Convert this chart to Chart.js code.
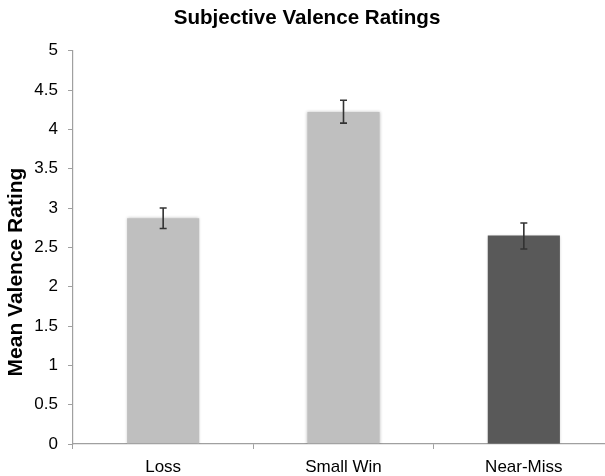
<!DOCTYPE html>
<html>
<head>
<meta charset="utf-8">
<script src="https://cdn.jsdelivr.net/npm/chart.js@4"></script>
<style>
    html, body { margin: 0; padding: 0; background: #fff; overflow: hidden; }
    #wrap { width: 614px; height: 476px; position: relative; }
</style>
</head>
<body>
<div id="wrap"><canvas id="valenceChart"></canvas></div>
<script>
// Data
let categories = ["Loss", "Small Win", "Near-Miss"];
let meanRatings = [2.87, 4.22, 2.65];
let errUpper = [3.00, 4.37, 2.81];
let errLower = [2.74, 4.08, 2.48];
let barColors = ["#bfbfbf", "#bfbfbf", "#595959"];

let fontFamily = "'Liberation Sans', Arial, sans-serif";

// error bars on top of the bars
let errorBars = {
    id: "errorBars",
    afterDatasetsDraw(chart) {
        let ctx = chart.ctx;
        let y = chart.scales.y;
        let meta = chart.getDatasetMeta(0);
        ctx.save();
        ctx.strokeStyle = "#333333";
        ctx.lineWidth = 1.6;
        meta.data.forEach((bar, i) => {
            let x = bar.x;
            let top = y.getPixelForValue(errUpper[i]);
            let bot = y.getPixelForValue(errLower[i]);
            ctx.beginPath();
            ctx.moveTo(x, top); ctx.lineTo(x, bot);
            ctx.moveTo(x - 3.5, top); ctx.lineTo(x + 3.5, top);
            ctx.moveTo(x - 3.5, bot); ctx.lineTo(x + 3.5, bot);
            ctx.stroke();
        });
        ctx.restore();
    }
};

// soft edge around bars
let barShadow = {
    id: "barShadow",
    beforeDatasetDraw(chart) {
        chart.ctx.save();
        chart.ctx.shadowColor = "rgba(0,0,0,0.25)";
        chart.ctx.shadowBlur = 3;
    },
    afterDatasetDraw(chart) { chart.ctx.restore(); }
};

// y axis title, drawn by hand so it sits where the original has it
let yTitle = {
    id: "yTitle",
    afterDraw(chart) {
        let ctx = chart.ctx;
        ctx.save();
        ctx.translate(16, 272);
        ctx.rotate(-Math.PI / 2);
        ctx.font = "bold 21px " + fontFamily;
        ctx.fillStyle = "#000";
        ctx.textAlign = "center";
        ctx.textBaseline = "middle";
        ctx.fillText("Mean Valence Rating", 0, 0);
        ctx.restore();
    }
};

let ctx = document.getElementById("valenceChart").getContext("2d");
new Chart(ctx, {
    type: "bar",
    data: {
        labels: categories,
        datasets: [{
            data: meanRatings,
            backgroundColor: barColors,
            borderWidth: 0,
            barPercentage: 1,
            categoryPercentage: 0.4
        }]
    },
    options: {
        responsive: true,
        maintainAspectRatio: false,
        animation: false,
        layout: { padding: 0 },
        plugins: {
            legend: { display: false },
            tooltip: { enabled: false },
            title: {
                display: true,
                text: "Subjective Valence Ratings",
                color: "#000",
                font: { family: fontFamily, size: 20.6, weight: "bold" },
                padding: { top: 6, bottom: 20 }
            }
        },
        scales: {
            x: {
                offset: true,
                grid: { offset: true, drawOnChartArea: false, drawTicks: true, tickLength: 5, color: "#a0a0a0" },
                border: { color: "#a0a0a0", width: 1.2 },
                ticks: { color: "#000", padding: 8, font: { family: fontFamily, size: 17 } },
                afterFit(scale) { scale.height = 32; }
            },
            y: {
                min: 0,
                max: 5,
                grid: { drawOnChartArea: false, drawTicks: true, tickLength: 5, color: "#a0a0a0" },
                border: { color: "#a0a0a0", width: 1.2 },
                ticks: {
                    stepSize: 0.5,
                    color: "#000",
                    padding: 10,
                    font: { family: fontFamily, size: 17 },
                    callback: v => String(v)
                },
                afterFit(scale) { scale.width = 73; }
            }
        }
    },
    plugins: [barShadow, errorBars, yTitle]
});
</script>
</body>
</html>
